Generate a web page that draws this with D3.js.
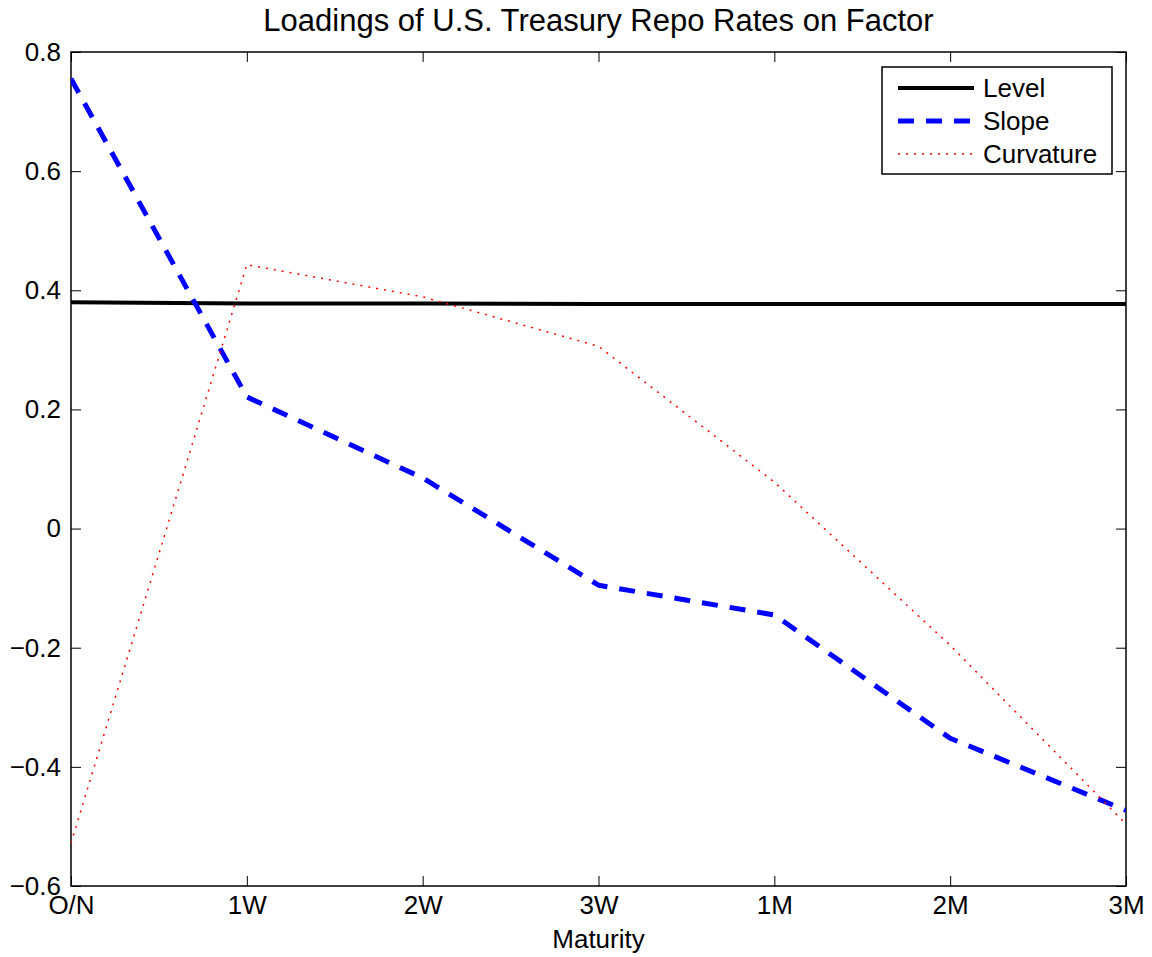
<!DOCTYPE html>
<html>
<head>
<meta charset="utf-8">
<script src="https://cdn.jsdelivr.net/npm/d3@7"></script>
<style>
  body { margin: 0; background: #fff; }
  svg { display: block; font-family: "Liberation Sans", Arial, Helvetica, sans-serif; }
</style>
</head>
<body>
<svg id="chart" width="1152" height="957"></svg>
<script>
// Factor loadings by repo maturity
const maturities = ["O/N", "1W", "2W", "3W", "1M", "2M", "3M"];
const level     = [0.380, 0.378, 0.378, 0.377, 0.377, 0.377, 0.377];
const slope     = [0.755, 0.221, 0.085, -0.095, -0.145, -0.352, -0.473];
const curvature = [-0.528, 0.443, 0.389, 0.306, 0.078, -0.196, -0.496];
const yTicks = [-0.6, -0.4, -0.2, 0, 0.2, 0.4, 0.6, 0.8];

const svg = d3.select("#chart");
const plotL = 71, plotR = 1126, plotT = 52, plotB = 886;
const fontSize = 26;

const x = d3.scalePoint().domain(maturities).range([plotL, plotR]);
const y = d3.scaleLinear().domain([-0.6, 0.8]).range([plotB, plotT]);

const fmt = v => (v < 0 ? "\u2212" : "") + (v === 0 ? "0" : Math.abs(v).toFixed(1));

// axes box
svg.append("rect").attr("x", plotL).attr("y", plotT)
  .attr("width", plotR - plotL).attr("height", plotB - plotT)
  .attr("fill", "none").attr("stroke", "#000").attr("stroke-width", 1.5);

const tickLen = 10;
const axisBottom = d3.axisBottom(x).tickSizeInner(-tickLen).tickSizeOuter(0);
const gB = svg.append("g").attr("transform", `translate(0,${plotB})`).call(axisBottom);
const axisTop = d3.axisTop(x).tickSizeInner(-tickLen).tickSizeOuter(0).tickFormat("");
const gT = svg.append("g").attr("transform", `translate(0,${plotT})`).call(axisTop);
const axisLeft = d3.axisLeft(y).tickValues(yTicks).tickFormat(fmt).tickSizeInner(-tickLen).tickSizeOuter(0);
const gL = svg.append("g").attr("transform", `translate(${plotL},0)`).call(axisLeft);
const axisRight = d3.axisRight(y).tickValues(yTicks).tickFormat("").tickSizeInner(-tickLen).tickSizeOuter(0);
const gR = svg.append("g").attr("transform", `translate(${plotR},0)`).call(axisRight);

[gB, gT, gL, gR].forEach(g => {
  g.select(".domain").remove();
  g.selectAll(".tick line").attr("stroke", "#000").attr("stroke-width", 1);
  g.selectAll(".tick text").attr("font-size", fontSize).attr("fill", "#000")
    .attr("font-family", "'Liberation Sans', Arial, sans-serif");
});
gB.selectAll(".tick text").attr("dy", "0.71em").attr("y", 10);
gL.selectAll(".tick text").attr("x", -10);

// series lines
const line = d3.line().x((d, i) => x(maturities[i])).y(d => y(d));
const series = [
  { name: "Level", data: level, color: "#000", width: 4, dash: null },
  { name: "Slope", data: slope, color: "#0000ff", width: 5, dash: "16,12" },
  { name: "Curvature", data: curvature, color: "#ff0000", width: 1.5, dash: "2,6" }
];

svg.append("defs").append("clipPath").attr("id", "plot")
  .append("rect").attr("x", plotL).attr("y", plotT).attr("width", plotR - plotL).attr("height", plotB - plotT);

const plot = svg.append("g").attr("clip-path", "url(#plot)");
series.forEach(s => {
  plot.append("path").datum(s.data)
    .attr("d", line).attr("fill", "none")
    .attr("stroke", s.color).attr("stroke-width", s.width)
    .attr("stroke-dasharray", s.dash)
    .attr("stroke-linejoin", "round");
});

// title and axis label
svg.append("text").attr("x", (plotL + plotR) / 2).attr("y", 31)
  .attr("text-anchor", "middle").attr("font-size", 31).text("Loadings of U.S. Treasury Repo Rates on Factor");
svg.append("text").attr("x", (plotL + plotR) / 2).attr("y", 948)
  .attr("text-anchor", "middle").attr("font-size", fontSize).text("Maturity");

// legend
const lg = svg.append("g");
lg.append("rect").attr("x", 882).attr("y", 67).attr("width", 230).attr("height", 107)
  .attr("fill", "#fff").attr("stroke", "#000").attr("stroke-width", 1.5);
series.forEach((s, i) => {
  const yy = 88 + i * 33;
  lg.append("line").attr("x1", 898).attr("x2", 974).attr("y1", yy).attr("y2", yy)
    .attr("stroke", s.color).attr("stroke-width", s.width).attr("stroke-dasharray", s.dash);
  lg.append("text").attr("x", 983).attr("y", yy).attr("dy", "0.36em")
    .attr("font-size", fontSize).text(s.name);
});
</script>
</body>
</html>
